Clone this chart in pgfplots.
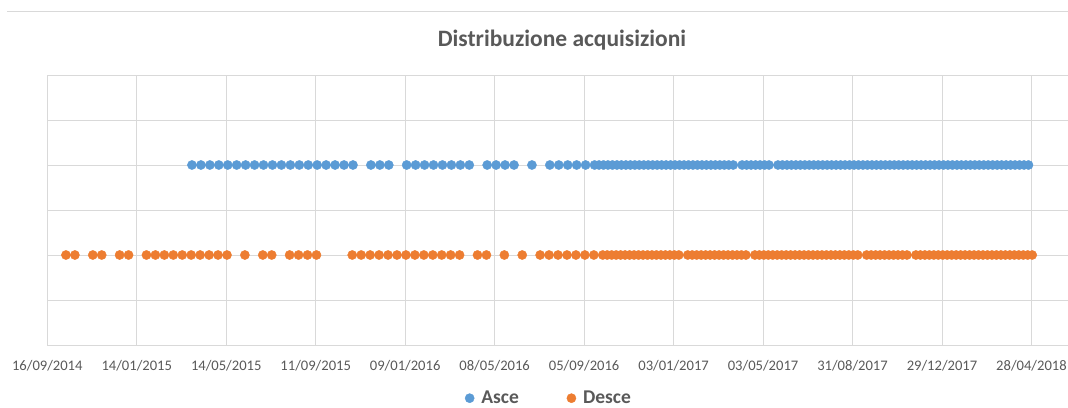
\documentclass[border=0pt]{standalone}
\usepackage{fontspec}
\setmainfont{Carlito}
\usepackage{pgfplots}
\pgfplotsset{compat=1.18}
\definecolor{asce}{HTML}{5B9BD5}
\definecolor{desce}{HTML}{ED7D31}
\definecolor{txt}{HTML}{595959}
\definecolor{grd}{HTML}{D9D9D9}

\begin{document}
\begin{tikzpicture}
\path[use as bounding box] (0,0) rectangle (1068bp,408bp);
\draw[grd, line width=1bp] (7bp,396.5bp) -- (1068bp,396.5bp);
\node[txt, font=\fontsize{23.5bp}{26bp}\selectfont\bfseries] at (562bp,368bp) {Distribuzione acquisizioni};
\begin{axis}[
  at={(47.3bp,63bp)}, anchor=south west,
  scale only axis, width=1020.7bp, height=270bp,
  xmin=0, xmax=1369, ymin=0, ymax=3,
  % days since 16/09/2014, ticks every 120 days
  xtick={0,120,240,360,480,600,720,840,960,1080,1200,1320},
  xticklabels={16/09/2014,14/01/2015,14/05/2015,11/09/2015,09/01/2016,08/05/2016,
    05/09/2016,03/01/2017,03/05/2017,31/08/2017,29/12/2017,28/04/2018},
  ytick={0,0.5,1,1.5,2,2.5,3}, yticklabels={},
  grid=major, major grid style={grd, line width=0.75bp},
  axis line style={draw=none}, tick style={draw=none},
  xticklabel style={txt, font=\fontsize{14.6bp}{16bp}\selectfont, anchor=base, yshift=-25bp},
  only marks,
  legend columns=2,
  legend style={at={(0.4915,-0.197)}, anchor=center, draw=none, fill=none,
    inner sep=0pt, outer sep=0pt,
    font=\fontsize{19.5bp}{21bp}\selectfont\bfseries, text=txt,
    /tikz/every odd column/.append style={column sep=5bp},
    /tikz/every even column/.append style={column sep=46bp}},
]
\addplot[mark=*, mark size=4.6bp, mark options={fill=asce, draw=asce}] coordinates {
(194,2) (206,2) (218,2) (230,2) (242,2) (254,2) (266,2) (278,2) (290,2) (302,2)
(314,2) (326,2) (338,2) (350,2) (362,2) (374,2) (386,2) (398,2) (410,2)
(434,2) (446,2) (458,2)
(482,2) (494,2) (506,2) (518,2) (530,2) (542,2) (554,2) (566,2)
(590,2) (602,2) (614,2) (626,2)
(650,2)
(674,2) (686,2) (698,2) (710,2) (722,2) (734,2)
(740,2) (746,2) (752,2) (758,2) (764,2) (770,2) (776,2) (782,2) (788,2) (794,2)
(800,2) (806,2) (812,2) (818,2) (824,2) (830,2) (836,2) (842,2) (848,2) (854,2)
(860,2) (866,2) (872,2) (878,2) (884,2) (890,2) (896,2) (902,2) (908,2) (914,2) (920,2)
(932,2) (938,2) (944,2) (950,2) (956,2) (962,2) (968,2)
(980,2) (986,2) (992,2) (998,2) (1004,2) (1010,2) (1016,2) (1022,2) (1028,2) (1034,2)
(1040,2) (1046,2) (1052,2) (1058,2) (1064,2) (1070,2) (1076,2) (1082,2) (1088,2) (1094,2)
(1100,2) (1106,2) (1112,2) (1118,2) (1124,2) (1130,2) (1136,2) (1142,2) (1148,2) (1154,2)
(1160,2) (1166,2) (1172,2) (1178,2) (1184,2) (1190,2) (1196,2) (1202,2) (1208,2) (1214,2)
(1220,2) (1226,2) (1232,2) (1238,2) (1244,2) (1250,2) (1256,2) (1262,2) (1268,2) (1274,2)
(1280,2) (1286,2) (1292,2) (1298,2) (1304,2) (1310,2) (1316,2)
};
\addlegendentry{Asce}
\addplot[mark=*, mark size=4.6bp, mark options={fill=desce, draw=desce}] coordinates {
(25,1) (37,1) (61,1) (73,1) (97,1) (109,1) (133,1) (145,1) (157,1) (169,1)
(181,1) (193,1) (205,1) (217,1) (229,1) (241,1) (265,1) (289,1) (301,1) (325,1)
(337,1) (349,1) (361,1)
(409,1) (421,1) (433,1) (445,1) (457,1) (469,1) (481,1) (493,1) (505,1) (517,1)
(529,1) (541,1) (553,1)
(577,1) (589,1) (613,1) (637,1)
(661,1) (673,1) (685,1) (697,1) (709,1) (721,1) (733,1)
(745,1) (751,1) (757,1) (763,1) (769,1) (775,1) (781,1) (787,1) (793,1) (799,1)
(805,1) (811,1) (817,1) (823,1) (829,1) (835,1) (841,1) (847,1)
(859,1) (865,1) (871,1) (877,1) (883,1) (889,1) (895,1) (901,1) (907,1) (913,1)
(919,1) (925,1) (931,1) (937,1)
(949,1) (955,1) (961,1) (967,1) (973,1) (979,1) (985,1) (991,1) (997,1) (1003,1)
(1009,1) (1015,1) (1021,1) (1027,1) (1033,1) (1039,1) (1045,1) (1051,1) (1057,1) (1063,1)
(1069,1) (1075,1) (1081,1) (1087,1)
(1099,1) (1105,1) (1111,1) (1117,1) (1123,1) (1129,1) (1135,1) (1141,1) (1147,1) (1153,1)
(1165,1) (1171,1) (1177,1) (1183,1) (1189,1) (1195,1) (1201,1) (1207,1) (1213,1) (1219,1)
(1225,1) (1231,1) (1237,1) (1243,1) (1249,1) (1255,1) (1261,1) (1267,1) (1273,1) (1279,1)
(1285,1) (1291,1) (1297,1) (1303,1) (1309,1) (1315,1) (1321,1)
};
\addlegendentry{Desce}
\end{axis}
\end{tikzpicture}
\end{document}
